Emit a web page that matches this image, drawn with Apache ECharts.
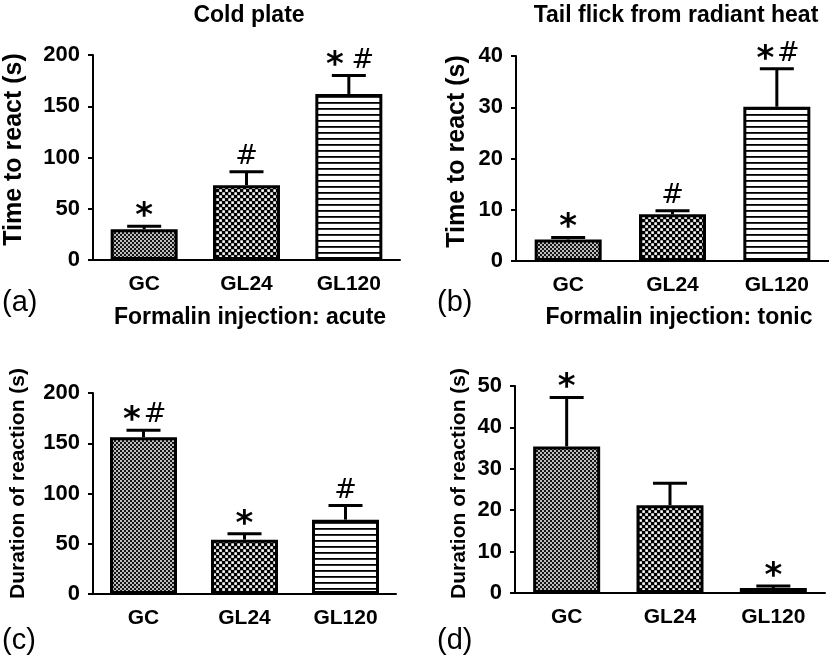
<!DOCTYPE html>
<html>
<head>
  <meta charset="utf-8">
  <title>Nociception tests</title>
  <script src="https://cdn.jsdelivr.net/npm/echarts@6/dist/echarts.min.js"></script>
  <style>
    html, body { margin: 0; padding: 0; background: #fff; }
    #chart-container { width: 829px; height: 661px; }
  </style>
</head>
<body>
<div id="chart-container"></div>

<script>
  // groups on the x axis
  var groups = ['GC', 'GL24', 'GL120'];

  // (a) cold plate
  var coldMean = [30, 73, 162];
  var coldErr = [3, 13, 18];
  var coldMarks = ['*', '#', '* #'];

  // (b) tail flick
  var tailMean = [4.2, 9.1, 30.1];
  var tailErr = [0.4, 0.7, 7.4];
  var tailMarks = ['*', '#', '*#'];

  // (c) formalin acute
  var acuteMean = [156, 54, 74];
  var acuteErr = [7, 6, 14];
  var acuteMarks = ['*#', '*', '#'];

  // (d) formalin tonic
  var tonicMean = [35.4, 21.2, 1.2];
  var tonicErr = [11.8, 5.3, 0.5];
  var tonicMarks = ['*', '', '*'];

  var FONT = 'Liberation Sans';
  var SYM_FONT = 'DejaVu Sans';

  // fill patterns for the three groups
  function makePattern(size, draw) {
    var c = document.createElement('canvas');
    c.width = size;
    c.height = size;
    draw(c.getContext('2d'), size);
    return { image: c, repeat: 'repeat' };
  }
  var fineChecker = makePattern(4, function (ctx, s) {
    ctx.fillStyle = '#151515';
    ctx.fillRect(0, 0, s, s);
    ctx.fillStyle = '#bdbdbd';
    ctx.fillRect(0, 0, 2, 2);
    ctx.fillRect(2, 2, 2, 2);
  });
  var coarseChecker = makePattern(6, function (ctx, s) {
    ctx.fillStyle = '#000';
    ctx.fillRect(0, 0, s, s);
    ctx.fillStyle = '#fff';
    ctx.fillRect(0.3, 0.3, 2.6, 2.6);
    ctx.fillRect(3.3, 3.3, 2.6, 2.6);
  });
  var hLines = makePattern(6, function (ctx, s) {
    ctx.fillStyle = '#fff';
    ctx.fillRect(0, 0, s, s);
    ctx.fillStyle = '#000';
    ctx.fillRect(0, 0, s, 1.8);
  });
  var fills = [fineChecker, coarseChecker, hLines];

  var container = document.getElementById('chart-container');
  var myChart = echarts.init(container);

  var grids = [
    { left: 93, top: 55, width: 307, height: 205 },
    { left: 516, top: 56, width: 313, height: 205 },
    { left: 93, top: 393, width: 303, height: 201 },
    { left: 515, top: 386, width: 310, height: 207 }
  ];

  function xAxisFor(i) {
    return {
      type: 'category',
      gridIndex: i,
      data: groups,
      axisLine: { lineStyle: { color: '#000', width: 2 } },
      axisTick: { alignWithLabel: true, length: 5, lineStyle: { color: '#000', width: 2 } },
      axisLabel: { color: '#000', fontFamily: FONT, fontWeight: 'bold', fontSize: 21, margin: 14 },
      splitLine: { show: false }
    };
  }

  function yAxisFor(i, max, interval, name, size, gap, shift) {
    return {
      type: 'value',
      gridIndex: i,
      min: 0,
      max: max,
      interval: interval,
      name: name,
      nameLocation: 'middle',
      nameGap: gap,
      nameTextStyle: {
        color: '#000', fontFamily: FONT, fontWeight: 'bold', fontSize: size,
        padding: [0, 0, 0, shift]
      },
      axisLine: { show: true, lineStyle: { color: '#000', width: 2 } },
      axisTick: { show: true, length: 5, lineStyle: { color: '#000', width: 2 } },
      axisLabel: { color: '#000', fontFamily: FONT, fontWeight: 'bold', fontSize: 22, margin: 13 },
      splitLine: { show: false }
    };
  }

  function barSeries(i, mean) {
    return {
      type: 'bar',
      xAxisIndex: i,
      yAxisIndex: i,
      barWidth: 67,
      data: mean.map(function (v, k) {
        return { value: v, itemStyle: { color: fills[k] } };
      }),
      itemStyle: { borderColor: '#000', borderWidth: 3 }
    };
  }

  function errorSeries(i, mean, err, marks) {
    return {
      type: 'custom',
      xAxisIndex: i,
      yAxisIndex: i,
      z: 5,
      data: mean.map(function (m, k) { return [k, m, m + err[k]]; }),
      renderItem: function (params, api) {
        var base = api.coord([api.value(0), api.value(1)]);
        var top = api.coord([api.value(0), api.value(2)]);
        var kids = [
          { type: 'line', shape: { x1: base[0], y1: base[1], x2: top[0], y2: top[1] },
            style: { stroke: '#000', lineWidth: 3 } },
          { type: 'line', shape: { x1: top[0] - 17, y1: top[1], x2: top[0] + 17, y2: top[1] },
            style: { stroke: '#000', lineWidth: 3 } }
        ];
        var txt = marks[params.dataIndex];
        var syms = txt.replace(/ /g, '').split('');
        var gap = txt.indexOf(' ') >= 0 ? 14 : 11.5;
        syms.forEach(function (s, k) {
          var dx = syms.length > 1 ? (k === 0 ? -gap : gap) : 0;
          var star = s === '*';
          kids.push({
            type: 'text',
            style: {
              text: s,
              x: top[0] + dx,
              y: top[1] - (star ? 9 : 15),
              align: 'center', textAlign: 'center',
              verticalAlign: 'middle', textVerticalAlign: 'middle',
              font: (star ? 'bold 34px ' : 'normal 27px ') + '"' + SYM_FONT + '"',
              fill: '#000'
            }
          });
        });
        return { type: 'group', children: kids };
      }
    };
  }

  function title(text, x, y) {
    return {
      text: text, left: x, top: y, textAlign: 'center', padding: 0,
      textStyle: { color: '#000', fontFamily: FONT, fontWeight: 'bold', fontSize: 23 }
    };
  }

  function panelLabel(text, x, y) {
    return {
      type: 'text', left: x, top: y,
      style: { text: text, font: 'normal 29px "Liberation Sans"', fill: '#000' }
    };
  }

  myChart.setOption({
    animation: false,
    backgroundColor: '#fff',
    title: [
      title('Cold plate', 249, 4),
      title('Tail flick from radiant heat', 676, 4),
      title('Formalin injection: acute', 250, 306),
      title('Formalin injection: tonic', 679, 306)
    ],
    grid: grids,
    xAxis: [xAxisFor(0), xAxisFor(1), xAxisFor(2), xAxisFor(3)],
    yAxis: [
      yAxisFor(0, 200, 50, 'Time to react (s)', 25, 66, 16),
      yAxisFor(1, 40, 10, 'Time to react (s)', 25, 46, 14),
      yAxisFor(2, 200, 50, 'Duration of reaction (s)', 21, 64, 20),
      yAxisFor(3, 50, 10, 'Duration of reaction (s)', 21, 45, 12)
    ],
    series: [
      barSeries(0, coldMean), errorSeries(0, coldMean, coldErr, coldMarks),
      barSeries(1, tailMean), errorSeries(1, tailMean, tailErr, tailMarks),
      barSeries(2, acuteMean), errorSeries(2, acuteMean, acuteErr, acuteMarks),
      barSeries(3, tonicMean), errorSeries(3, tonicMean, tonicErr, tonicMarks)
    ],
    graphic: [
      panelLabel('(a)', 2, 288),
      panelLabel('(b)', 437, 288),
      panelLabel('(c)', 2, 626),
      panelLabel('(d)', 437, 626)
    ]
  });
</script>
</body>
</html>
